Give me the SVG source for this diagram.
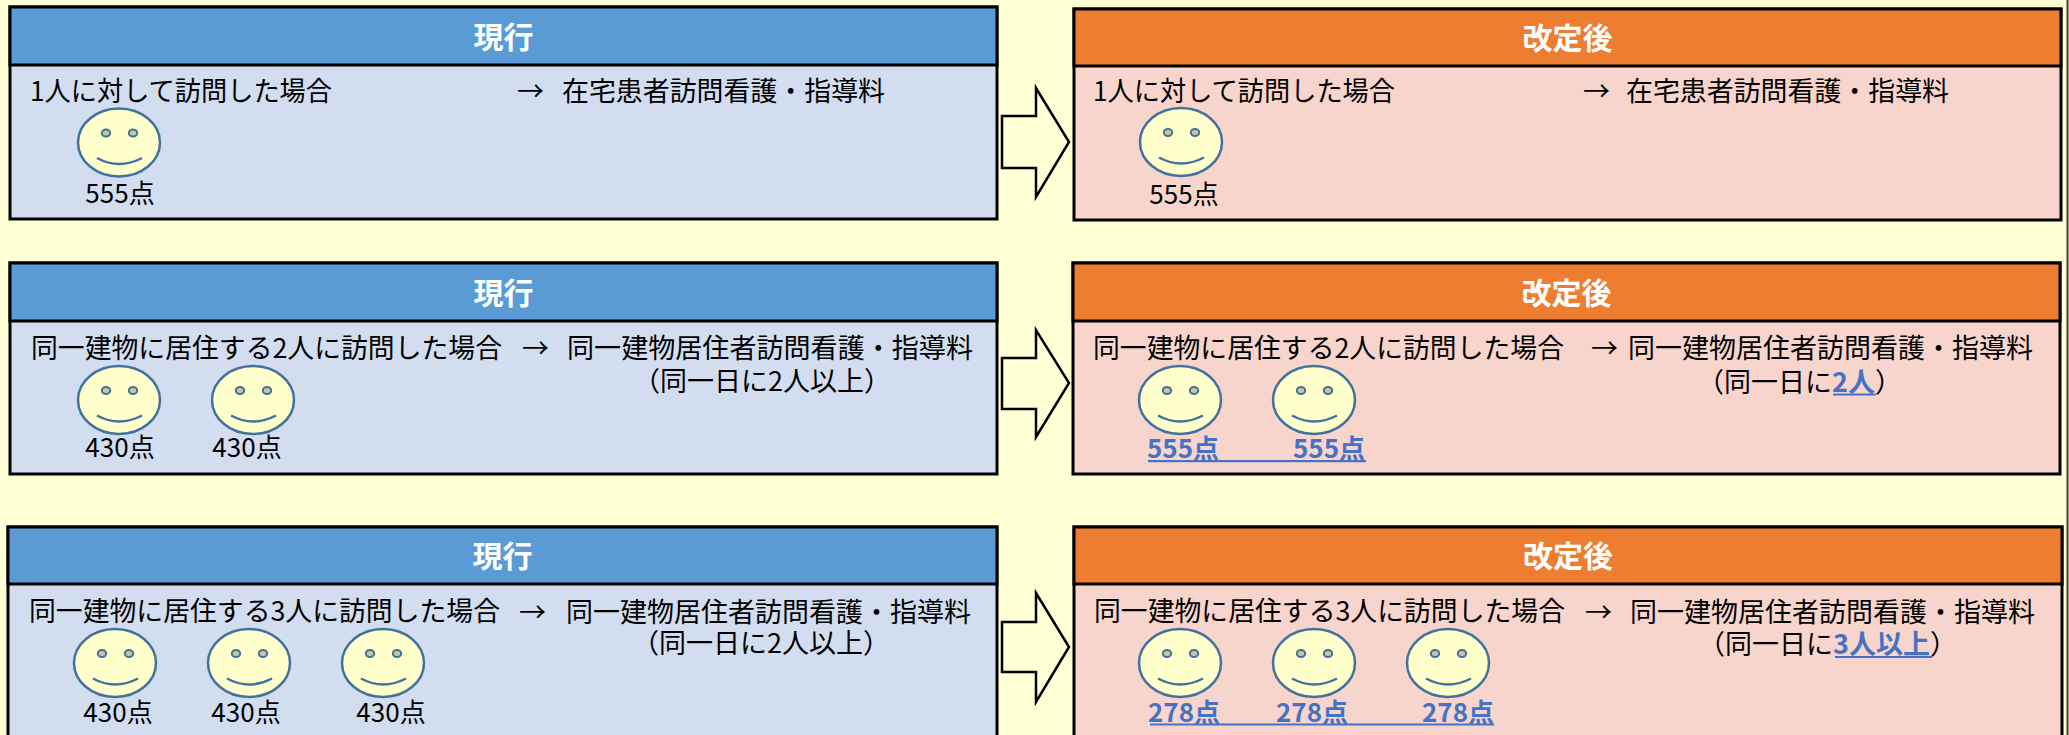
<svg xmlns="http://www.w3.org/2000/svg" xmlns:xlink="http://www.w3.org/1999/xlink" width="2069" height="735" viewBox="0 0 2069 735">
<style>
.box{stroke:#000;stroke-width:3}
.hc{fill:#5B9BD5}
.bc{fill:#D2DEEF}
.hn{fill:#ED7D31}
.bn{fill:#F8D5CC}
text{font-family:"Noto Sans CJK JP","Noto Sans",sans-serif}
.title{font-size:30px;font-weight:bold;fill:#fff;text-anchor:middle}
.t{font-size:27px;fill:#000}
.pt{font-size:26px;fill:#000;text-anchor:middle}
.ph{font-size:26px;font-weight:bold;fill:#4472C4;text-anchor:middle}
.hl{font-weight:bold;fill:#4472C4}
.ul{fill:#4472C4}
.arrow{fill:#FFFFD5;stroke:#000;stroke-width:2.5;stroke-linejoin:miter}
</style>
<defs>
<g id="face">
<ellipse rx="41" ry="34" fill="#FFFFCC" stroke="#41719C" stroke-width="2.5"/>
<ellipse cx="-13" cy="-9.5" rx="4.2" ry="3.5" fill="#C9C6A3" stroke="#41719C" stroke-width="2"/>
<ellipse cx="14" cy="-9.5" rx="4.2" ry="3.5" fill="#C9C6A3" stroke="#41719C" stroke-width="2"/>
<path d="M-22,15.5 Q0,27.5 23,15.5" fill="none" stroke="#41719C" stroke-width="2.5"/>
</g>
</defs>
<rect x="0" y="0" width="2069" height="735" fill="#FFFFD5"/>
<line x1="2067.5" y1="0" x2="2067.5" y2="735" stroke="#404040" stroke-width="2"/>

<g id="current-1">
<rect class="box bc" x="10" y="7" width="987" height="212"/>
<rect class="box hc" x="10" y="7" width="987" height="58"/>
<text class="title" x="503.5" y="48">現行</text>
<text class="t" x="30" y="101" textLength="302" lengthAdjust="spacingAndGlyphs">1人に対して訪問した場合</text>
<text class="t" x="517" y="101">→</text>
<text class="t" x="562" y="101" textLength="323" lengthAdjust="spacingAndGlyphs">在宅患者訪問看護・指導料</text>
<use xlink:href="#face" href="#face" x="119" y="142.5"/>
<text class="pt" x="120" y="203">555点</text>
</g>

<g id="current-2">
<rect class="box bc" x="10" y="263" width="987" height="211"/>
<rect class="box hc" x="10" y="263" width="987" height="58"/>
<text class="title" x="503.5" y="303.5">現行</text>
<text class="t" x="31" y="358" textLength="471" lengthAdjust="spacingAndGlyphs">同一建物に居住する2人に訪問した場合</text>
<text class="t" x="522" y="358">→</text>
<text class="t" x="567" y="358" textLength="406" lengthAdjust="spacingAndGlyphs">同一建物居住者訪問看護・指導料</text>
<text class="t" x="633" y="391">（同一日に2人以上）</text>
<use xlink:href="#face" href="#face" x="119" y="400"/>
<use xlink:href="#face" href="#face" x="253" y="400"/>
<text class="pt" x="120" y="457">430点</text>
<text class="pt" x="247" y="457">430点</text>
</g>

<g id="current-3">
<rect class="box bc" x="8" y="527" width="989" height="220"/>
<rect class="box hc" x="8" y="527" width="989" height="57"/>
<text class="title" x="502.5" y="567">現行</text>
<text class="t" x="29" y="621" textLength="471" lengthAdjust="spacingAndGlyphs">同一建物に居住する3人に訪問した場合</text>
<text class="t" x="519" y="622">→</text>
<text class="t" x="566" y="622" textLength="405" lengthAdjust="spacingAndGlyphs">同一建物居住者訪問看護・指導料</text>
<text class="t" x="632" y="653">（同一日に2人以上）</text>
<use xlink:href="#face" href="#face" x="115" y="663"/>
<use xlink:href="#face" href="#face" x="249" y="663"/>
<use xlink:href="#face" href="#face" x="383" y="663"/>
<text class="pt" x="118" y="722">430点</text>
<text class="pt" x="246" y="722">430点</text>
<text class="pt" x="391" y="722">430点</text>
</g>

<g id="revised-1">
<rect class="box bn" x="1074" y="9" width="987" height="211"/>
<rect class="box hn" x="1074" y="9" width="987" height="57"/>
<text class="title" x="1567.5" y="49">改定後</text>
<text class="t" x="1093" y="101" textLength="302" lengthAdjust="spacingAndGlyphs">1人に対して訪問した場合</text>
<text class="t" x="1583" y="101">→</text>
<text class="t" x="1626" y="101" textLength="323" lengthAdjust="spacingAndGlyphs">在宅患者訪問看護・指導料</text>
<use xlink:href="#face" href="#face" x="1181" y="142"/>
<text class="pt" x="1184" y="204">555点</text>
</g>

<g id="revised-2">
<rect class="box bn" x="1073" y="263" width="987" height="211"/>
<rect class="box hn" x="1073" y="263" width="987" height="58"/>
<text class="title" x="1566.5" y="303.5">改定後</text>
<text class="t" x="1093" y="358" textLength="471" lengthAdjust="spacingAndGlyphs">同一建物に居住する2人に訪問した場合</text>
<text class="t" x="1591" y="358">→</text>
<text class="t" x="1628" y="358" textLength="405" lengthAdjust="spacingAndGlyphs">同一建物居住者訪問看護・指導料</text>
<text class="t" x="1697" y="392">（同一日に<tspan class="hl">2人</tspan>）</text>
<rect class="ul" x="1833" y="393.5" width="43" height="2"/>
<use xlink:href="#face" href="#face" x="1180" y="400"/>
<use xlink:href="#face" href="#face" x="1314" y="400"/>
<text class="ph" x="1183" y="458">555点</text>
<text class="ph" x="1329" y="458">555点</text>
<rect class="ul" x="1148" y="460" width="218" height="2.2"/>
</g>

<g id="revised-3">
<rect class="box bn" x="1074" y="527" width="988" height="220"/>
<rect class="box hn" x="1074" y="527" width="988" height="57"/>
<text class="title" x="1568" y="567">改定後</text>
<text class="t" x="1094" y="621" textLength="471" lengthAdjust="spacingAndGlyphs">同一建物に居住する3人に訪問した場合</text>
<text class="t" x="1585" y="622">→</text>
<text class="t" x="1630" y="622" textLength="405" lengthAdjust="spacingAndGlyphs">同一建物居住者訪問看護・指導料</text>
<text class="t" x="1698" y="654">（同一日に<tspan class="hl">3人以上</tspan>）</text>
<rect class="ul" x="1835" y="656" width="97" height="2"/>
<use xlink:href="#face" href="#face" x="1180" y="663"/>
<use xlink:href="#face" href="#face" x="1314" y="663"/>
<use xlink:href="#face" href="#face" x="1448" y="663"/>
<text class="ph" x="1184" y="722">278点</text>
<text class="ph" x="1312" y="722">278点</text>
<text class="ph" x="1458" y="722">278点</text>
<rect class="ul" x="1150" y="723.5" width="344" height="2"/>
</g>

<g id="connectors">
<polygon class="arrow" points="1002,116 1036,116 1036,88 1069,142 1036,197 1036,168 1002,168"/>
<polygon class="arrow" points="1002,358 1036,358 1036,330 1069,383 1036,437 1036,409 1002,409"/>
<polygon class="arrow" points="1002,622 1036,622 1036,593 1069,647 1036,702 1036,672 1002,672"/>
</g>
</svg>
